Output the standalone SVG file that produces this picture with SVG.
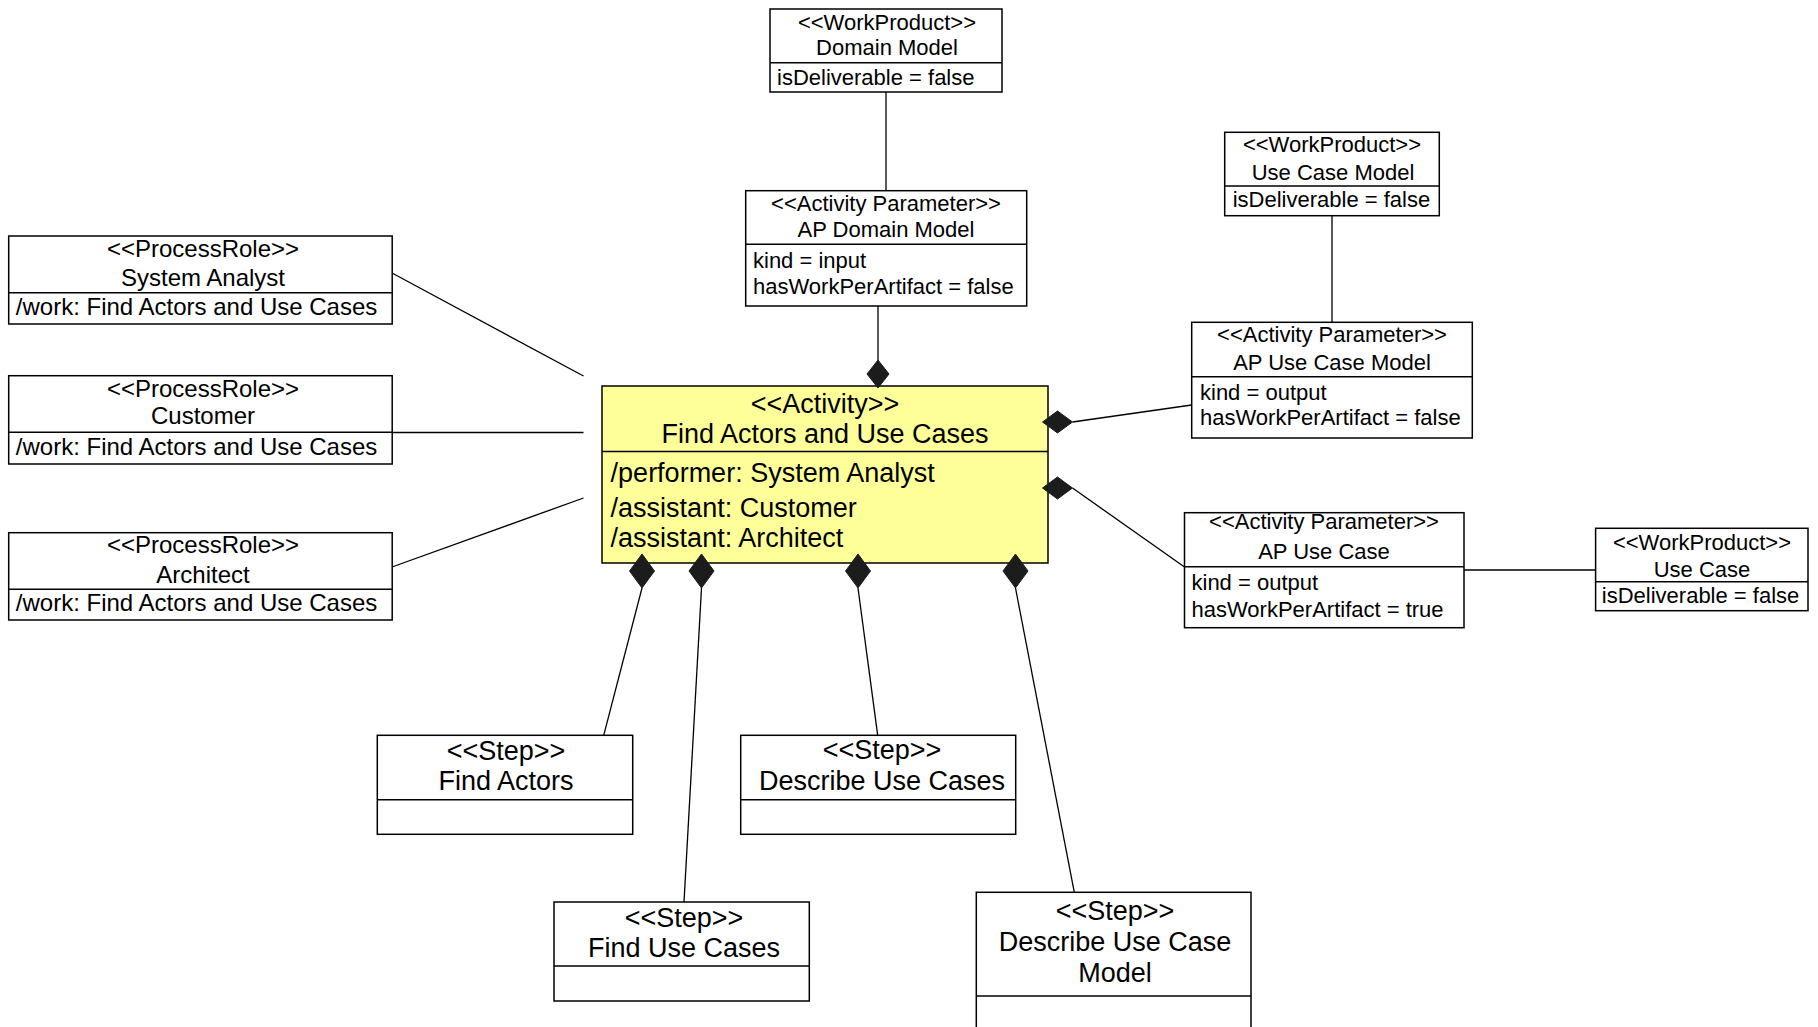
<svg xmlns="http://www.w3.org/2000/svg" width="1818" height="1027" viewBox="0 0 1818 1027">
<style>
.box{fill:#ffffff;stroke:#000;stroke-width:1.5}
.act{fill:#ffff99;stroke:#000;stroke-width:1.5}
.div{stroke:#000;stroke-width:1.5}
.ln{stroke:#000;stroke-width:1.3;fill:none}
.dm{fill:#1c1c1c;stroke:#1c1c1c;stroke-width:1}
text{font-family:"Liberation Sans",Arial,sans-serif;fill:#000}
.s22{font-size:22px}
.s24{font-size:24px}
.s27{font-size:27px}
.c{text-anchor:middle}
</style>
<rect width="1818" height="1027" fill="#ffffff"/>

<g id="connectors">
  <line class="ln" x1="886" y1="92" x2="886" y2="190.7"/>
  <line class="ln" x1="878" y1="306" x2="878" y2="360"/>
  <line class="ln" x1="1332" y1="215.7" x2="1332" y2="322.3"/>
  <line class="ln" x1="1191.7" y1="405" x2="1072.5" y2="422"/>
  <line class="ln" x1="1184.5" y1="567" x2="1072.5" y2="488"/>
  <line class="ln" x1="1464" y1="570" x2="1595.6" y2="570"/>
  <line class="ln" x1="392" y1="273" x2="583.5" y2="376"/>
  <line class="ln" x1="392" y1="432.5" x2="583.5" y2="432.5"/>
  <line class="ln" x1="392" y1="567" x2="583.5" y2="498"/>
  <line class="ln" x1="642" y1="588" x2="603.7" y2="735.3"/>
  <line class="ln" x1="701.5" y1="588" x2="684" y2="902"/>
  <line class="ln" x1="858" y1="588" x2="877.7" y2="735.3"/>
  <line class="ln" x1="1015.5" y1="588" x2="1074.3" y2="892.3"/>
</g>

<g id="wp-domain-model">
  <rect class="box" x="770" y="9" width="232" height="83"/>
  <line class="div" x1="770" y1="62.7" x2="1002" y2="62.7"/>
  <text class="s22 c" x="887" y="30">&lt;&lt;WorkProduct&gt;&gt;</text>
  <text class="s22 c" x="887" y="55">Domain Model</text>
  <text class="s22" x="777" y="85">isDeliverable = false</text>
</g>

<g id="ap-domain-model">
  <rect class="box" x="745.7" y="190.7" width="281" height="115.3"/>
  <line class="div" x1="745.7" y1="244.3" x2="1026.7" y2="244.3"/>
  <text class="s22 c" x="886" y="210.7">&lt;&lt;Activity Parameter&gt;&gt;</text>
  <text class="s22 c" x="886" y="237.3">AP Domain Model</text>
  <text class="s22" x="753" y="268.3">kind = input</text>
  <text class="s22" x="753" y="294.3">hasWorkPerArtifact = false</text>
</g>

<g id="wp-use-case-model">
  <rect class="box" x="1224.7" y="132.3" width="214.6" height="83.4"/>
  <line class="div" x1="1224.7" y1="186" x2="1439.3" y2="186"/>
  <text class="s22 c" x="1332" y="151.7">&lt;&lt;WorkProduct&gt;&gt;</text>
  <text class="s22 c" x="1333" y="180">Use Case Model</text>
  <text class="s22" x="1232.7" y="207.3">isDeliverable = false</text>
</g>

<g id="ap-use-case-model">
  <rect class="box" x="1191.7" y="322.3" width="280.6" height="115.7"/>
  <line class="div" x1="1191.7" y1="376.7" x2="1472.3" y2="376.7"/>
  <text class="s22 c" x="1332" y="341.7">&lt;&lt;Activity Parameter&gt;&gt;</text>
  <text class="s22 c" x="1332" y="370">AP Use Case Model</text>
  <text class="s22" x="1200" y="400">kind = output</text>
  <text class="s22" x="1200" y="425">hasWorkPerArtifact = false</text>
</g>

<g id="ap-use-case">
  <rect class="box" x="1184.5" y="512.7" width="279.5" height="115"/>
  <line class="div" x1="1184.5" y1="566.7" x2="1464" y2="566.7"/>
  <text class="s22 c" x="1324" y="529.3">&lt;&lt;Activity Parameter&gt;&gt;</text>
  <text class="s22 c" x="1324" y="559.3">AP Use Case</text>
  <text class="s22" x="1191.5" y="590">kind = output</text>
  <text class="s22" x="1191.5" y="616.7">hasWorkPerArtifact = true</text>
</g>

<g id="wp-use-case">
  <rect class="box" x="1595.6" y="528.3" width="212.4" height="82.4"/>
  <line class="div" x1="1595.6" y1="581.7" x2="1808" y2="581.7"/>
  <text class="s22 c" x="1702" y="550">&lt;&lt;WorkProduct&gt;&gt;</text>
  <text class="s22 c" x="1702" y="576.7">Use Case</text>
  <text class="s22" x="1601.8" y="603.3">isDeliverable = false</text>
</g>

<g id="role-system-analyst">
  <rect class="box" x="8.7" y="236" width="383.5" height="88"/>
  <line class="div" x1="8.7" y1="292.7" x2="392.2" y2="292.7"/>
  <text class="s24 c" x="203" y="256.7">&lt;&lt;ProcessRole&gt;&gt;</text>
  <text class="s24 c" x="203" y="285.7">System Analyst</text>
  <text class="s24" x="15.8" y="315">/work: Find Actors and Use Cases</text>
</g>

<g id="role-customer">
  <rect class="box" x="8.7" y="375.7" width="383.5" height="88.3"/>
  <line class="div" x1="8.7" y1="432.3" x2="392.2" y2="432.3"/>
  <text class="s24 c" x="203" y="396.7">&lt;&lt;ProcessRole&gt;&gt;</text>
  <text class="s24 c" x="203" y="424">Customer</text>
  <text class="s24" x="15.8" y="455">/work: Find Actors and Use Cases</text>
</g>

<g id="role-architect">
  <rect class="box" x="8.7" y="532.7" width="383.5" height="87.3"/>
  <line class="div" x1="8.7" y1="589.3" x2="392.2" y2="589.3"/>
  <text class="s24 c" x="203" y="553.3">&lt;&lt;ProcessRole&gt;&gt;</text>
  <text class="s24 c" x="203" y="582.7">Architect</text>
  <text class="s24" x="15.8" y="610.7">/work: Find Actors and Use Cases</text>
</g>

<g id="activity-find-actors-and-use-cases">
  <rect class="act" x="602" y="386" width="446" height="177"/>
  <line class="div" x1="602" y1="451.5" x2="1048" y2="451.5"/>
  <text class="s27 c" x="825" y="413">&lt;&lt;Activity&gt;&gt;</text>
  <text class="s27 c" x="825" y="442.7">Find Actors and Use Cases</text>
  <text class="s27" x="610.6" y="481.7">/performer: System Analyst</text>
  <text class="s27" x="610.6" y="516.7">/assistant: Customer</text>
  <text class="s27" x="610.6" y="546.7">/assistant: Architect</text>
</g>

<g id="step-find-actors">
  <rect class="box" x="377.3" y="735.3" width="255.4" height="99"/>
  <line class="div" x1="377.3" y1="799.7" x2="632.7" y2="799.7"/>
  <text class="s27 c" x="506" y="760">&lt;&lt;Step&gt;&gt;</text>
  <text class="s27 c" x="506" y="790">Find Actors</text>
</g>

<g id="step-find-use-cases">
  <rect class="box" x="554" y="902" width="255.3" height="99"/>
  <line class="div" x1="554" y1="966" x2="809.3" y2="966"/>
  <text class="s27 c" x="684" y="926.7">&lt;&lt;Step&gt;&gt;</text>
  <text class="s27 c" x="684" y="956.7">Find Use Cases</text>
</g>

<g id="step-describe-use-cases">
  <rect class="box" x="740.7" y="735.3" width="275" height="99"/>
  <line class="div" x1="740.7" y1="799.7" x2="1015.7" y2="799.7"/>
  <text class="s27 c" x="882" y="759.3">&lt;&lt;Step&gt;&gt;</text>
  <text class="s27 c" x="882" y="790">Describe Use Cases</text>
</g>

<g id="step-describe-use-case-model">
  <rect class="box" x="976.3" y="892.3" width="274.7" height="150"/>
  <line class="div" x1="976.3" y1="996" x2="1251" y2="996"/>
  <text class="s27 c" x="1115" y="920">&lt;&lt;Step&gt;&gt;</text>
  <text class="s27 c" x="1115" y="950.7">Describe Use Case</text>
  <text class="s27 c" x="1115" y="981.7">Model</text>
</g>

<g id="composition-diamonds">
  <polygon class="dm" points="878,360 889,374 878,388 867,374"/>
  <polygon class="dm" points="1042.5,422 1057.5,411 1072.5,422 1057.5,433"/>
  <polygon class="dm" points="1042.5,488 1057.5,477 1072.5,488 1057.5,499"/>
  <polygon class="dm" points="642,554 654.5,571 642,588 629.5,571"/>
  <polygon class="dm" points="701.5,554 714,571 701.5,588 689,571"/>
  <polygon class="dm" points="858,554 870.5,571 858,588 845.5,571"/>
  <polygon class="dm" points="1015.5,554 1028,571 1015.5,588 1003,571"/>
</g>
</svg>
